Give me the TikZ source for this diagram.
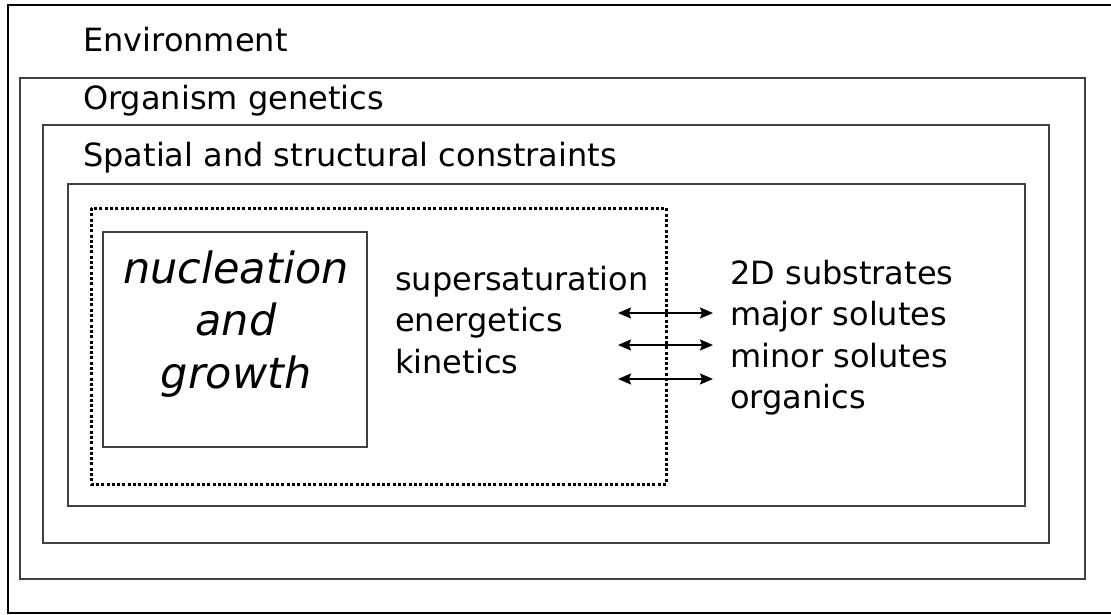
\documentclass[tikz,border=0pt]{standalone}
\usepackage{fontspec}
\setmainfont{DejaVu Sans}
\usetikzlibrary{positioning, arrows.meta}
\tikzset{
    frame/.style = {draw=black!75, line width=1.5pt},
    boxtitle/.style = {anchor=base west, inner sep=0pt, font=\fontsize{32}{40}\selectfont},
    entry/.style = {inner sep=0pt, text height=30pt, text depth=11.2pt, font=\fontsize{32}{40}\selectfont},
    core/.style = {inner sep=0pt, text height=38pt, text depth=14.5pt, font=\fontsize{43}{50}\selectfont\itshape},
    both/.style = {{Stealth[length=13pt, width=11pt, inset=2pt]}-{Stealth[length=13pt, width=11pt, inset=2pt]}, line width=1.8pt}
}

\begin{document}
\begin{tikzpicture}[x=1pt, y=-1pt]
    \useasboundingbox (0,0) rectangle (1111,615);
    % nested frames
    \draw[frame, draw=black, line width=2pt] (8,5) rectangle (1140,613);
    \draw[frame] (20,78) rectangle (1085,579);
    \draw[frame] (43,125) rectangle (1049,543);
    \draw[frame] (68,184) rectangle (1025,506);
    \draw[black, line width=3pt, dash pattern=on 3pt off 2.3pt] (91,208) rectangle (666,484);
    \draw[frame, line width=1.3pt] (103,232) rectangle (367,447);

    \node[boxtitle] (env) at (83,52) {Environment};
    \node[boxtitle] (gen) at (83,110) {Organism genetics};
    \node[boxtitle] (spat) at (83,166) {Spatial and structural constraints};

    % core process
    \node[core, anchor=base] (nuc) at (236,283) {nucleation};
    \node[core, below=0pt of nuc] (and) {and};
    \node[core, below=0pt of and] (grow) {growth};

    % driving factors
    \node[entry, anchor=base west] (sup) at (395,290) {supersaturation};
    \node[entry, below right=0pt and 0pt of sup.south west] (ene) {energetics};
    \node[entry, below right=0pt and 0pt of ene.south west] (kin) {kinetics};

    % surroundings
    \node[entry, anchor=base west] (sub) at (730,284) {2D substrates};
    \node[entry, below right=0pt and 0pt of sub.south west] (maj) {major solutes};
    \node[entry, below right=0pt and 0pt of maj.south west] (min) {minor solutes};
    \node[entry, below right=0pt and 0pt of min.south west] (org) {organics};

    \coordinate (l1) at (618,313); \coordinate (r1) at (713,313);
    \coordinate (l2) at (618,345); \coordinate (r2) at (713,345);
    \coordinate (l3) at (618,379); \coordinate (r3) at (713,379);
    \draw (l1) edge[both] (r1)
          (l2) edge[both] (r2)
          (l3) edge[both] (r3);
\end{tikzpicture}
\end{document}
